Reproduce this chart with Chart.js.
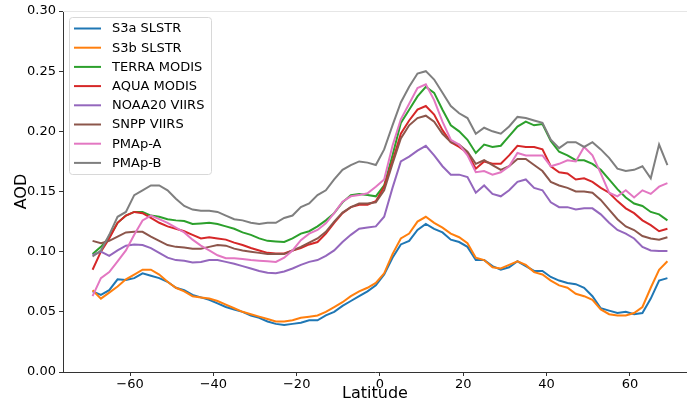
<!DOCTYPE html>
<html>
<head>
<meta charset="utf-8">
<title>AOD by latitude</title>
<script src="https://cdn.jsdelivr.net/npm/chart.js@4.4.1/dist/chart.umd.min.js"></script>
<style>
    body { margin: 0; background: #fff; }
    #wrap { width: 687px; height: 405px; }
</style>
</head>
<body>
<div id="wrap"><canvas id="aodChart" width="687" height="405"></canvas></div>
<script>

// latitude bin centres (degrees)
const latitude = [-69, -67, -65, -63, -61, -59, -57, -55, -53, -51,
    -49, -47, -45, -43, -41, -39, -37, -35, -33, -31,
    -29, -27, -25, -23, -21, -19, -17, -15, -13, -11,
    -9, -7, -5, -3, -1, 1, 3, 5, 7, 9,
    11, 13, 15, 17, 19, 21, 23, 25, 27, 29,
    31, 33, 35, 37, 39, 41, 43, 45, 47, 49,
    51, 53, 55, 57, 59, 61, 63, 65, 67, 69];

const s3aSlstr = [0.067, 0.064, 0.068, 0.077, 0.0765, 0.078, 0.082, 0.080, 0.078, 0.075,
    0.070, 0.068, 0.064, 0.062, 0.060, 0.057, 0.054, 0.052, 0.050, 0.047,
    0.045, 0.042, 0.040, 0.039, 0.040, 0.041, 0.043, 0.043, 0.047, 0.050,
    0.055, 0.059, 0.063, 0.067, 0.072, 0.081, 0.095, 0.106, 0.109, 0.118,
    0.123, 0.119, 0.116, 0.110, 0.108, 0.104, 0.093, 0.093, 0.088, 0.085,
    0.087, 0.092, 0.088, 0.084, 0.084, 0.079, 0.076, 0.074, 0.073, 0.070,
    0.063, 0.053, 0.051, 0.049, 0.050, 0.048, 0.049, 0.061, 0.076, 0.078];

const s3bSlstr = [0.068, 0.061, 0.066, 0.071, 0.077, 0.081, 0.085, 0.085, 0.081, 0.075,
    0.070, 0.067, 0.063, 0.062, 0.061, 0.059, 0.056, 0.053, 0.050, 0.048,
    0.046, 0.044, 0.042, 0.042, 0.043, 0.045, 0.046, 0.047, 0.050, 0.054,
    0.058, 0.063, 0.067, 0.070, 0.074, 0.082, 0.098, 0.111, 0.115, 0.125,
    0.129, 0.124, 0.120, 0.115, 0.112, 0.107, 0.095, 0.093, 0.087, 0.086,
    0.089, 0.092, 0.089, 0.083, 0.081, 0.076, 0.072, 0.070, 0.065, 0.063,
    0.060, 0.052, 0.048, 0.047, 0.047, 0.049, 0.054, 0.070, 0.085, 0.092];

const terraModis = [0.098, 0.104, 0.112, 0.124, 0.130, 0.133, 0.133, 0.130, 0.129, 0.127,
    0.126, 0.1255, 0.123, 0.1235, 0.124, 0.123, 0.121, 0.119, 0.116, 0.114,
    0.111, 0.109, 0.1085, 0.108, 0.111, 0.115, 0.117, 0.121, 0.126, 0.132,
    0.141, 0.147, 0.148, 0.147, 0.146, 0.155, 0.180, 0.207, 0.218, 0.229,
    0.237, 0.232, 0.218, 0.205, 0.200, 0.193, 0.182, 0.189, 0.187, 0.188,
    0.196, 0.204, 0.208, 0.205, 0.206, 0.192, 0.183, 0.180, 0.176, 0.176,
    0.173, 0.168, 0.160, 0.152, 0.145, 0.140, 0.138, 0.133, 0.131, 0.126];

const aquaModis = [0.085, 0.100, 0.111, 0.124, 0.130, 0.133, 0.132, 0.128, 0.124, 0.121,
    0.119, 0.117, 0.114, 0.111, 0.112, 0.111, 0.110, 0.1075, 0.1055, 0.103,
    0.101, 0.099, 0.0985, 0.0985, 0.101, 0.103, 0.106, 0.108, 0.115, 0.124,
    0.132, 0.137, 0.139, 0.139, 0.142, 0.154, 0.175, 0.198, 0.209, 0.218,
    0.221, 0.214, 0.201, 0.191, 0.187, 0.182, 0.169, 0.175, 0.173, 0.173,
    0.180, 0.188, 0.187, 0.187, 0.185, 0.171, 0.166, 0.165, 0.160, 0.161,
    0.158, 0.153, 0.149, 0.142, 0.136, 0.132, 0.126, 0.122, 0.117, 0.119];

const noaa20Viirs = [0.097, 0.100, 0.0965, 0.101, 0.105, 0.106, 0.1055, 0.103, 0.099, 0.095,
    0.093, 0.0925, 0.091, 0.0915, 0.093, 0.093, 0.0915, 0.090, 0.088, 0.086,
    0.084, 0.0825, 0.082, 0.0835, 0.086, 0.089, 0.0915, 0.093, 0.0965, 0.101,
    0.108, 0.114, 0.119, 0.120, 0.121, 0.129, 0.153, 0.175, 0.179, 0.184,
    0.188, 0.180, 0.171, 0.164, 0.164, 0.162, 0.149, 0.155, 0.148, 0.146,
    0.151, 0.158, 0.160, 0.153, 0.151, 0.141, 0.137, 0.137, 0.135, 0.136,
    0.136, 0.131, 0.124, 0.118, 0.115, 0.111, 0.104, 0.101, 0.1005, 0.1005];

const snppViirs = [0.109, 0.107, 0.109, 0.1125, 0.116, 0.1165, 0.1165, 0.1125, 0.109, 0.1055,
    0.104, 0.1035, 0.1025, 0.1025, 0.104, 0.1055, 0.105, 0.1025, 0.101, 0.100,
    0.099, 0.098, 0.098, 0.098, 0.101, 0.104, 0.1075, 0.111, 0.1165, 0.125,
    0.1325, 0.137, 0.140, 0.140, 0.141, 0.151, 0.173, 0.194, 0.205, 0.211,
    0.213, 0.208, 0.198, 0.191, 0.189, 0.183, 0.173, 0.176, 0.172, 0.168,
    0.171, 0.177, 0.177, 0.172, 0.167, 0.158, 0.155, 0.153, 0.150, 0.150,
    0.149, 0.143, 0.135, 0.127, 0.121, 0.118, 0.113, 0.111, 0.110, 0.112];

const pmapA = [0.063, 0.078, 0.083, 0.092, 0.101, 0.114, 0.126, 0.130, 0.127, 0.124,
    0.120, 0.116, 0.110, 0.105, 0.101, 0.097, 0.0945, 0.0945, 0.094, 0.093,
    0.0925, 0.092, 0.0915, 0.095, 0.101, 0.1095, 0.115, 0.118, 0.1235, 0.132,
    0.1415, 0.146, 0.147, 0.1485, 0.154, 0.160, 0.188, 0.210, 0.223, 0.236,
    0.239, 0.226, 0.208, 0.193, 0.189, 0.180, 0.166, 0.167, 0.164, 0.166,
    0.171, 0.182, 0.180, 0.180, 0.180, 0.171, 0.173, 0.176, 0.175, 0.187,
    0.180, 0.165, 0.149, 0.146, 0.151, 0.145, 0.151, 0.148, 0.154, 0.157];

const pmapB = [0.096, 0.101, 0.114, 0.129, 0.133, 0.147, 0.151, 0.155, 0.155, 0.151,
    0.144, 0.138, 0.135, 0.134, 0.134, 0.133, 0.130, 0.127, 0.126, 0.124,
    0.123, 0.124, 0.124, 0.128, 0.130, 0.137, 0.140, 0.147, 0.151, 0.160,
    0.168, 0.172, 0.175, 0.174, 0.172, 0.185, 0.205, 0.224, 0.237, 0.248,
    0.250, 0.243, 0.232, 0.221, 0.215, 0.211, 0.198, 0.203, 0.200, 0.198,
    0.204, 0.212, 0.211, 0.209, 0.207, 0.193, 0.186, 0.191, 0.191, 0.187,
    0.191, 0.185, 0.178, 0.169, 0.167, 0.168, 0.171, 0.161, 0.189, 0.172];

const seriesNames = ['S3a SLSTR', 'S3b SLSTR', 'TERRA MODIS', 'AQUA MODIS',
    'NOAA20 VIIRS', 'SNPP VIIRS', 'PMAp-A', 'PMAp-B'];
const seriesValues = [s3aSlstr, s3bSlstr, terraModis, aquaModis,
    noaa20Viirs, snppViirs, pmapA, pmapB];
const seriesColors = ['#1f77b4', '#ff7f0e', '#2ca02c', '#d62728',
    '#9467bd', '#8c564b', '#e377c2', '#7f7f7f'];

const yTicks = [0, 0.05, 0.10, 0.15, 0.20, 0.25, 0.30];
const xTicks = [-60, -40, -20, 0, 20, 40, 60];

Chart.defaults.font.family = "'DejaVu Sans', sans-serif";
Chart.defaults.color = '#000';

const datasets = seriesValues.map(function(values, i) {
    return {
        label: seriesNames[i],
        data: latitude.map(function(lat, j) { return { x: lat, y: values[j] }; }),
        borderColor: seriesColors[i],
        backgroundColor: seriesColors[i],
        borderWidth: 2,
        pointRadius: 0,
        tension: 0,
        fill: false,
        // later series on top, like matplotlib
        order: seriesValues.length - i
    };
});

// legend box inside the plot, upper left
const boxLegend = {
    id: 'boxLegend',
    afterDraw: function(chart) {
        const c = chart.ctx;
        const x = 69.5, y = 17.5, w = 142, h = 157;
        c.save();
        c.beginPath();
        c.roundRect(x, y, w, h, 3);
        c.fillStyle = 'rgba(255,255,255,0.8)';
        c.fill();
        c.strokeStyle = '#d8d8d8';
        c.lineWidth = 1;
        c.stroke();
        c.font = "13px 'DejaVu Sans'";
        c.textBaseline = 'middle';
        chart.data.datasets.forEach(function(ds, i) {
            const ry = 28.5 + i * 19.2;
            c.beginPath();
            c.moveTo(74, ry);
            c.lineTo(101, ry);
            c.strokeStyle = ds.borderColor;
            c.lineWidth = 2;
            c.stroke();
            c.fillStyle = '#000';
            c.fillText(ds.label, 112, ry + 0.5);
        });
        c.restore();
    }
};

// light top frame line
const topFrame = {
    id: 'topFrame',
    beforeDatasetsDraw: function(chart) {
        const a = chart.chartArea;
        const c = chart.ctx;
        c.save();
        c.strokeStyle = '#e6e6e6';
        c.lineWidth = 1;
        c.beginPath();
        c.moveTo(a.left, a.top + 0.5);
        c.lineTo(a.right, a.top + 0.5);
        c.stroke();
        c.restore();
    }
};

const ctx = document.getElementById('aodChart').getContext('2d');

const aodChart = new Chart(ctx, {
    type: 'line',
    data: { datasets: datasets },
    options: {
        responsive: false,
        devicePixelRatio: 1,
        animation: false,
        layout: { padding: { top: 11, left: 0, right: 0, bottom: 0 } },
        plugins: {
            legend: { display: false },
            tooltip: { enabled: false }
        },
        scales: {
            x: {
                type: 'linear',
                min: -76.1,
                max: 73.7,
                afterFit: function(scale) { scale.height = 33; },
                afterBuildTicks: function(scale) {
                    scale.ticks = xTicks.map(function(v) { return { value: v }; });
                },
                ticks: {
                    font: { size: 13 },
                    padding: 1,
                    maxRotation: 0,
                    callback: function(v) { return String(v).replace('-', '\u2212'); }
                },
                grid: { drawOnChartArea: false, drawTicks: true, tickLength: 4, tickWidth: 1, color: '#333' },
                border: { display: true, color: '#333', width: 1 },
                title: {
                    display: true,
                    text: 'Latitude',
                    font: { size: 16, lineHeight: 1.2 },
                    padding: { top: 1.5, bottom: 1.5 }
                }
            },
            y: {
                min: 0,
                max: 0.30,
                afterFit: function(scale) { scale.width = 63; },
                afterBuildTicks: function(scale) {
                    scale.ticks = yTicks.map(function(v) { return { value: v }; });
                },
                ticks: {
                    font: { size: 13 },
                    padding: 3,
                    callback: function(v) { return v.toFixed(2); }
                },
                grid: { drawOnChartArea: false, drawTicks: true, tickLength: 4, tickWidth: 1, color: '#333' },
                border: { display: true, color: '#333', width: 1 },
                title: {
                    display: true,
                    text: 'AOD',
                    font: { size: 16, lineHeight: 1.2 },
                    padding: { top: 12.5, bottom: 0 }
                }
            }
        }
    },
    plugins: [topFrame, boxLegend]
});

</script>
</body>
</html>
